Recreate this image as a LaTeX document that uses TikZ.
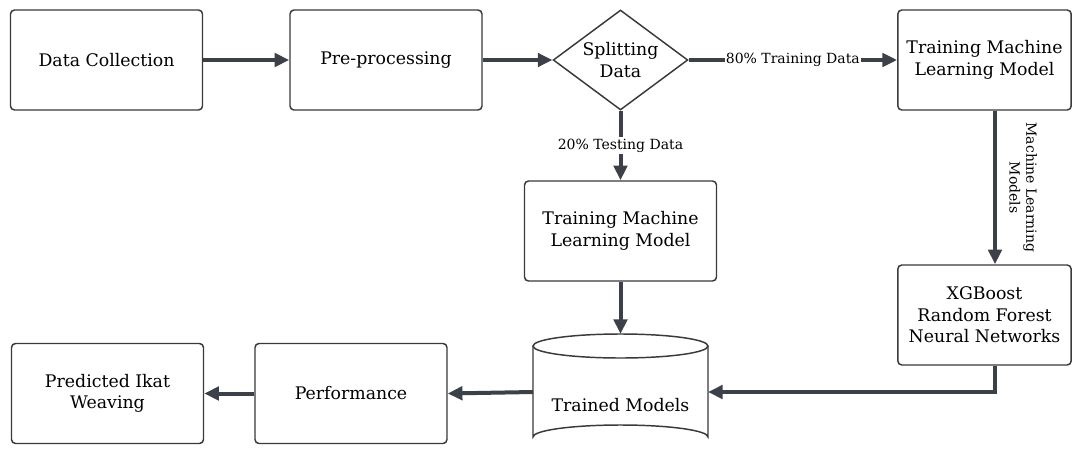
\documentclass[tikz,border=0pt]{standalone}
\usepackage{fontspec}
\setmainfont{DejaVu Serif}
\usetikzlibrary{arrows.meta,shapes.geometric}
\definecolor{lc}{HTML}{3B4049}
\definecolor{bc}{HTML}{3A3A3A}
\tikzset{
  px/.style={x=0.75pt,y=-0.75pt},
  mainfont/.style={font=\fontsize{13}{16}\selectfont},
  box/.style={draw=bc,line width=1.1pt,rounded corners=3pt,minimum width=144pt,minimum height=75pt,align=center,mainfont,inner sep=0pt},
  smallbox/.style={box,minimum width=130pt},
  conn/.style={draw=lc,line width=3pt,-{Triangle[length=11pt,width=10pt]}},
  elabel/.style={fill=white,font=\fontsize{10.5}{12.5}\selectfont,inner sep=1pt}
}
\begin{document}
\begin{tikzpicture}[px]
\useasboundingbox[fill=white] (0,0) rectangle (1081,450);
\begin{scope}
\clip (0,0) rectangle (1081,450);
% nodes
\node[box] (dc) at (106.5,60) {Data Collection};
\node[box] (pp) at (386,60) {Pre-processing};
\node[draw=bc,line width=1.1pt,diamond,aspect=1.35,minimum width=101pt,minimum height=75pt,inner sep=0pt,align=center,mainfont] (sd) at (620.5,60) {Splitting\\Data};
\node[smallbox] (tr) at (984.5,60) {Training Machine\\Learning Model};
\node[box] (tm) at (620.5,231) {Training Machine\\Learning Model};
\node[smallbox] (xg) at (984.5,315) {XGBoost\\Random Forest\\Neural Networks};
\node[box] (pf) at (351,393.5) {Performance};
\node[box] (pi) at (107.5,393.5) {Predicted Ikat\\Weaving};
% cylinder
\draw[draw=bc,line width=1.1pt,fill=white] (533,346) -- (533,437) arc[start angle=180,end angle=360,x radius=87.5,y radius=12] -- (708,346);
\draw[draw=bc,line width=1.1pt,fill=white] (620.5,346) ellipse[x radius=87.5,y radius=12];
\node[mainfont] (cy) at (620.5,405) {Trained Models};
\coordinate (cyT) at (620.5,334);
\coordinate (cyL) at (533,392);
\coordinate (cyR) at (708,392);
\coordinate (bend) at (995,392);
% connectors
\draw[conn] (dc.east) -- (pp.west);
\draw[conn] (pp.east) -- (sd.west);
\draw[conn] (sd.east) -- node[elabel] {80\% Training Data} (tr.west);
\draw[conn] (sd.south) -- node[elabel,pos=0.5] {20\% Testing Data} (tm.north);
\draw[conn] (tr.south -| bend) -- node[xshift=6pt,rotate=-90,anchor=south,align=center,font=\fontsize{10.5}{12.5}\selectfont] {Machine Learning\\Models} (xg.north -| bend);
\draw[conn] (tm.south) -- (cyT);
\draw[conn] (xg.south -| bend) -- (bend) -- (cyR);
\draw[conn] (cyL) -- (pf.east);
\draw[conn] (pf.west) -- (pi.east);
\end{scope}
\end{tikzpicture}
\end{document}
